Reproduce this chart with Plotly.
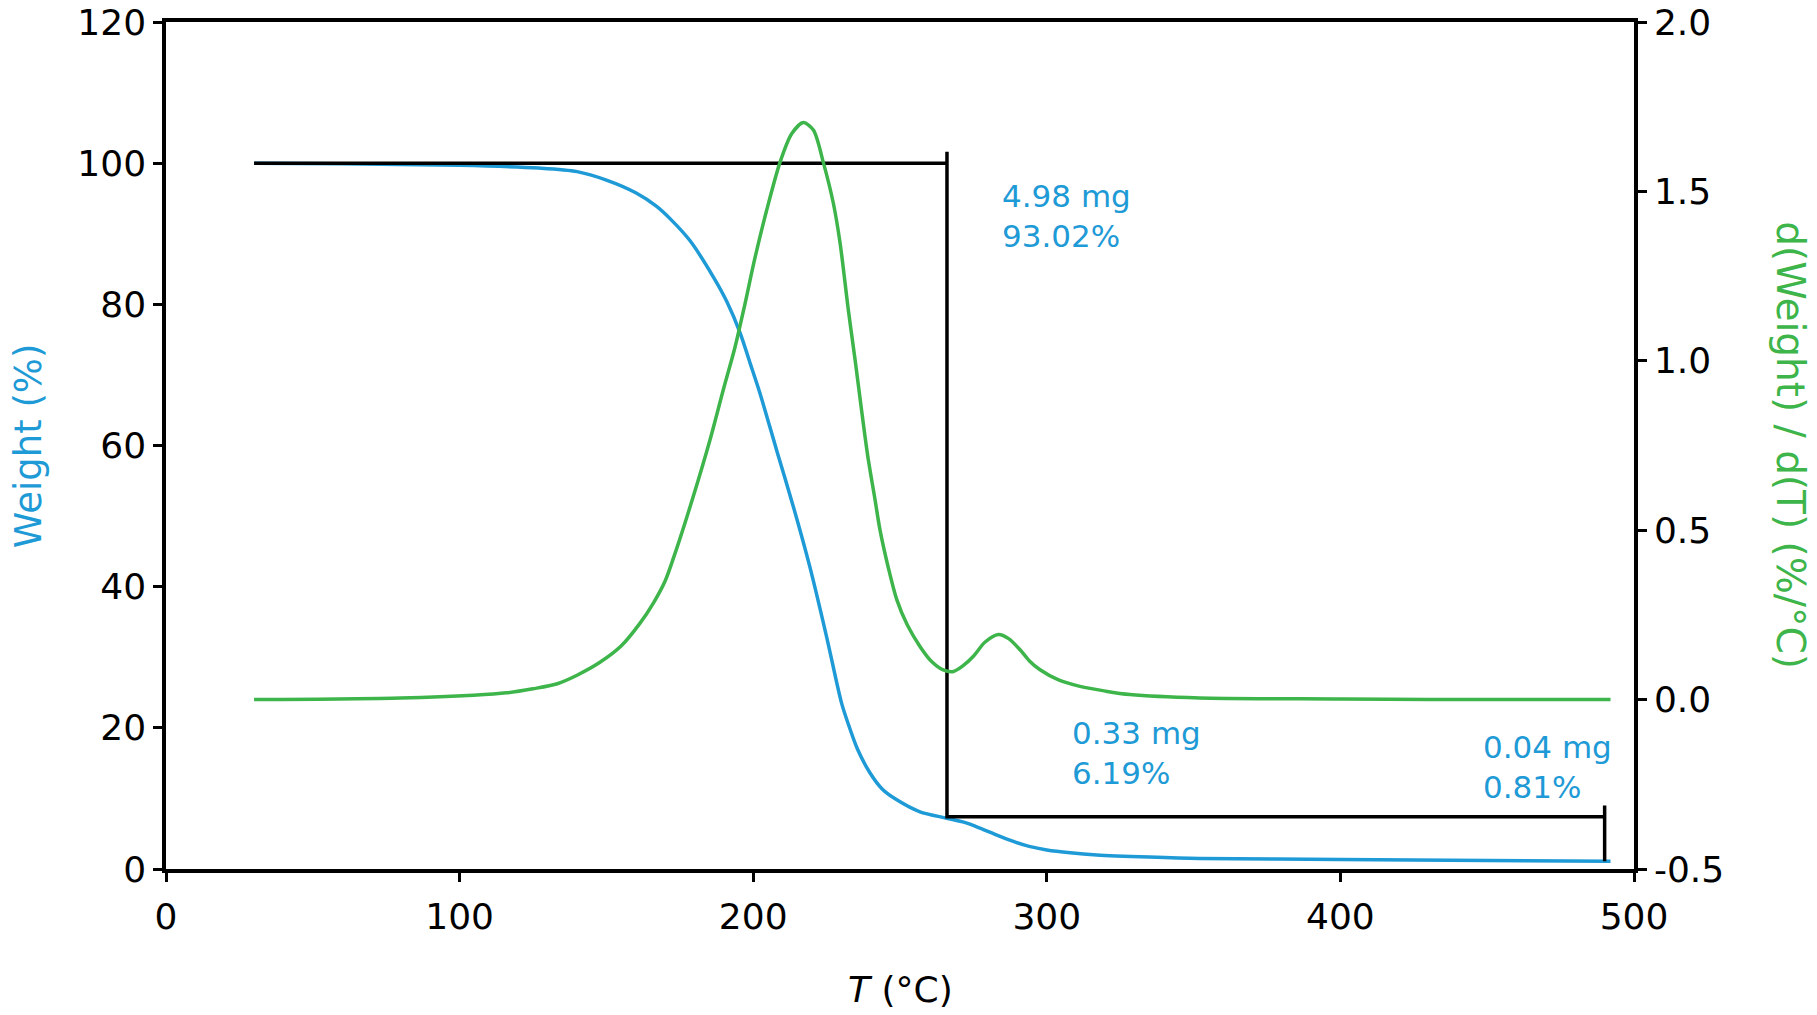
"""TGA curve: weight % and derivative weight vs temperature, with step analysis"""
import plotly.graph_objects as go

# weight curve (left axis)
temp_w = [30, 60, 100, 127, 140, 150, 160, 167, 172, 178.5, 186.4, 191, 195.5, 199, 202.3,
          208, 213.7, 219.3, 225, 230.1, 232.5, 235.5, 239.8, 244, 248.9, 256.8, 265.9,
          272, 277.2, 283, 288.6, 294, 300, 308, 317, 335, 352, 400, 450, 492]
weight = [100.0, 99.9, 99.7, 99.3, 98.8, 97.6, 95.8, 93.9, 92.0, 89.0, 83.9, 80.4, 76.0, 71.6, 67.4,
          59.3, 51.3, 42.8, 32.9, 23.5, 20.4, 17.0, 13.6, 11.3, 9.8, 8.1, 7.2,
          6.6, 5.8, 4.8, 3.9, 3.2, 2.7, 2.3, 2.0, 1.7, 1.5, 1.35, 1.2, 1.1]

# derivative curve (right axis)
temp_d = [30, 80, 104.7, 116, 125, 133, 140, 147.8, 155, 161.4, 166, 170, 173.9, 179.6, 185.3,
          189.8, 193.8, 197, 200.5, 204.6, 209.1, 213.1, 217.1, 220.5, 223.9, 227.3, 229.6,
          232.4, 234.7, 236.9, 239, 241.5, 243.2, 246, 248.9, 252.5, 256.8, 260.5, 264.7,
          268.2, 271.5, 275, 279, 283.5, 287, 290.9, 294, 297.7, 304, 311.3, 320, 328.3,
          352, 400, 430, 492]
deriv = [0.0, 0.005, 0.013, 0.02, 0.032, 0.046, 0.072, 0.11, 0.158, 0.225, 0.285, 0.35, 0.445, 0.60, 0.767,
         0.914, 1.04, 1.16, 1.30, 1.445, 1.585, 1.67, 1.703, 1.681, 1.585, 1.465, 1.347,
         1.15, 1.003, 0.855, 0.72, 0.59, 0.50, 0.39, 0.295, 0.22, 0.157, 0.115, 0.088,
         0.083, 0.10, 0.128, 0.17, 0.192, 0.18, 0.147, 0.115, 0.088, 0.058, 0.039, 0.025, 0.015,
         0.005, 0.002, 0.0, 0.0]

# step analysis markers
step_t = [30, 266, None, 266, 266, 490, None, 490, 490]
step_w = [100, 100, None, 101.6, 7.4, 7.4, None, 9.0, 1.1]

# step labels
label_t = [284, 308, 448]
label_w = [92.5, 16.4, 14.4]
label_txt = ["4.98 mg<br>93.02%", "0.33 mg<br>6.19%", "0.04 mg<br>0.81%"]

# right axis ticks
y2_vals = [-0.5, 0.0, 0.5, 1.0, 1.5, 2.0]
y2_text = ["-0.5", "0.0", "0.5", "1.0", "1.5", "2.0"]

BLUE = "#1e9ad6"
GREEN = "#3db54a"
FONT = "DejaVu Sans"

fig = go.Figure()
fig.add_trace(go.Scatter(x=temp_w, y=weight, mode="lines",
                         line=dict(color=BLUE, width=3.5, shape="spline", smoothing=0.8)))
fig.add_trace(go.Scatter(x=temp_d, y=deriv, mode="lines", yaxis="y2",
                         line=dict(color=GREEN, width=3.5, shape="spline", smoothing=0.8)))
fig.add_trace(go.Scatter(x=step_t, y=step_w, mode="lines",
                         line=dict(color="black", width=3.5)))

for t, w, s in zip(label_t, label_w, label_txt):
    fig.add_annotation(x=t, y=w, text=s, showarrow=False, xanchor="left", yanchor="middle",
                       align="left", font=dict(color=BLUE, size=31, family=FONT))

# axis titles
fig.add_annotation(xref="paper", yref="paper", x=-0.0935, y=0.5, text="Weight (%)",
                   textangle=-90, showarrow=False, xanchor="center", yanchor="middle",
                   font=dict(color=BLUE, size=37, family=FONT))
fig.add_annotation(xref="paper", yref="paper", x=1.1065, y=0.5, text="d(Weight) / d(T) (%/°C)",
                   textangle=90, showarrow=False, xanchor="center", yanchor="middle",
                   font=dict(color=GREEN, size=39, family=FONT))
fig.add_annotation(xref="paper", yref="paper", x=0.5, y=-0.142, text="<i>T</i> (°C)",
                   showarrow=False, xanchor="center", yanchor="middle",
                   font=dict(color="black", size=36, family=FONT))

axis_common = dict(showgrid=False, zeroline=False, linecolor="black", linewidth=3.5,
                   ticks="outside", ticklen=9, tickwidth=3, tickcolor="black",
                   ticklabeloverflow="allow", automargin=False,
                   tickfont=dict(size=36, color="black", family=FONT))

# page body has an 8px margin, so the figure sits 8px in from the window edge
fig.update_layout(
    width=1809, height=1007,
    margin=dict(l=158, r=183, t=14, b=146),
    plot_bgcolor="white", paper_bgcolor="white",
    showlegend=False,
    xaxis=dict(range=[0, 500], dtick=100, mirror=True, ticklabelstandoff=4, **axis_common),
    yaxis=dict(range=[0, 120], dtick=20, **axis_common),
    yaxis2=dict(range=[-0.5, 2.0], tickvals=y2_vals, ticktext=y2_text, overlaying="y",
                side="right", **axis_common),
)

fig.write_html("out.html")
